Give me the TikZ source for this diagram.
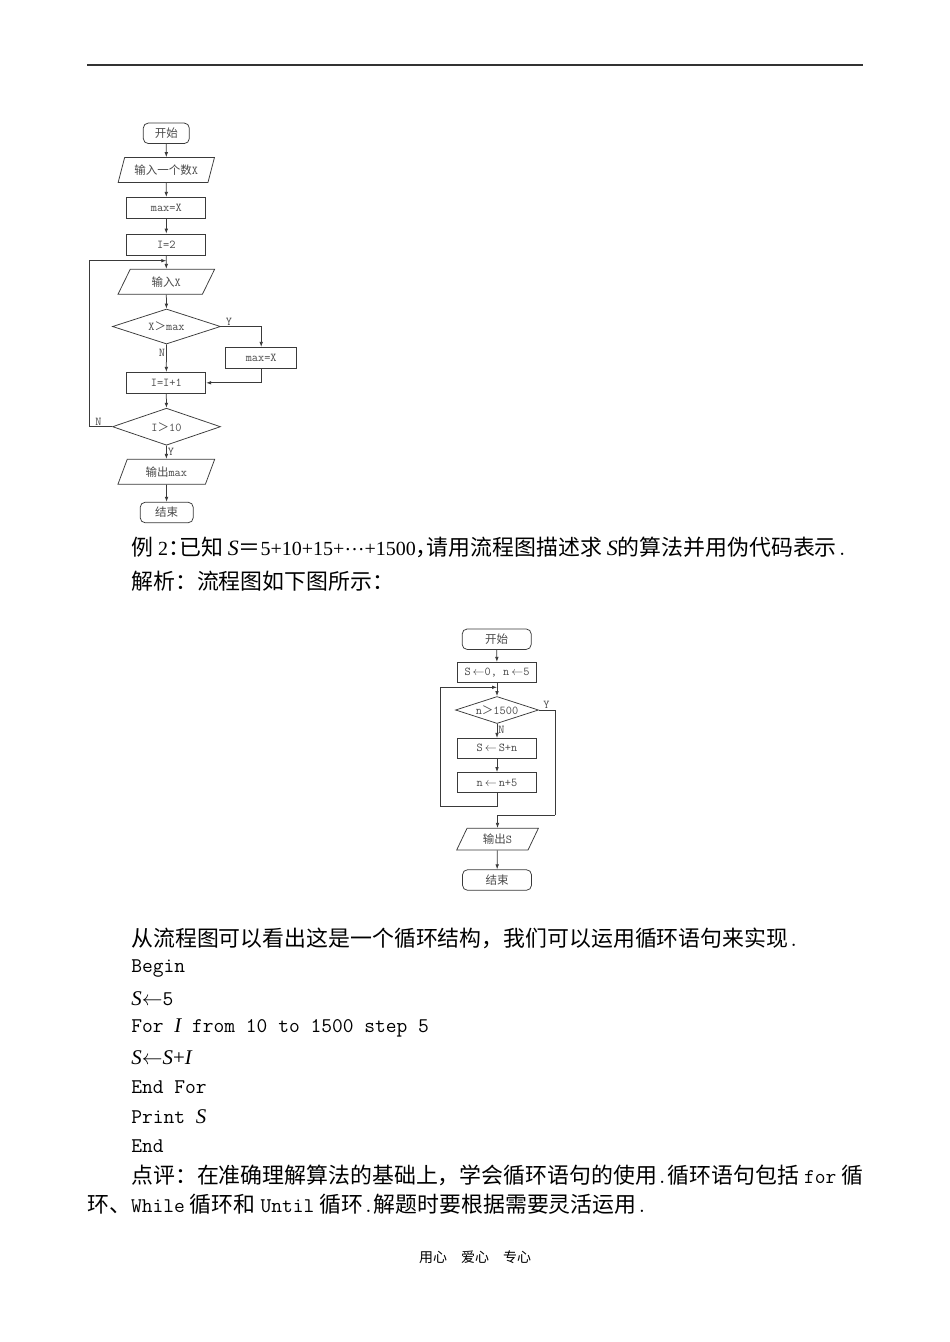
\documentclass[tikz,border=0pt]{standalone}
\usepackage{fontspec}
\usetikzlibrary{shapes.geometric,arrows.meta}
\setmainfont{Liberation Serif}
\newfontfamily\cjk{Noto Sans CJK SC}
\newfontfamily\latn{Liberation Serif}
\definecolor{FlowLine}{HTML}{3A3A3A}
\definecolor{FlowText}{HTML}{4A4A4A}
\newcommand\bodyfont{\cjk\fontsize{21.9}{26}\selectfont}
\newcommand\codefont{\ttfamily\fontsize{20.9}{24}\selectfont}
\newcommand\chartfont{\cjk\fontsize{11.5}{13}\selectfont}
\newcommand\chartlat{\ttfamily\fontsize{12}{14}\selectfont}
\newcommand\ivar[1]{{\latn\itshape #1}}
\newcommand\halfp[1]{\makebox[0.5em][l]{#1}}
\newcommand\numfont{\latn\fontsize{20}{24}\selectfont}

\begin{document}
\begin{tikzpicture}[x=1pt,y=-1pt,line width=0.75pt,draw=FlowLine,
  >={Latex[length=5pt,width=3.6pt]},
  process/.style={draw,rectangle,minimum width=79pt,minimum height=21pt,inner sep=0pt,font=\chartfont,text=FlowText},
  startstop/.style={draw,rectangle,rounded corners=5pt,minimum height=20.5pt,inner sep=0pt,font=\chartfont,text=FlowText},
  inout/.style={draw,trapezium,trapezium left angle=65,trapezium right angle=115,trapezium stretches=true,minimum width=97pt,minimum height=25pt,inner sep=0pt,font=\chartfont,text=FlowText},
  decide/.style={draw,diamond,aspect=3,inner sep=0pt,font=\chartfont,text=FlowText},
  lbl/.style={font=\chartlat,text=FlowText,inner sep=1pt},
  textline/.style={anchor=west,inner sep=0pt,font=\bodyfont}]
  \fill[white] (0,0) rectangle (950,1342);
  \useasboundingbox (0,0) rectangle (950,1342);
  \draw[line width=1.3pt,black!80] (87,65) -- (863,65);

  \node[startstop,minimum width=46pt] (start1) at (166.3,133.3) {开始};
  \node[inout] (in1) at (166.3,170) {输入一个数{\chartlat X}};
  \node[process] (max1) at (166.3,207.8) {{\chartlat max=X}};
  \node[process] (i1) at (166.3,244.5) {{\chartlat I=2}};
  \node[inout] (in2) at (166.3,281.8) {输入{\chartlat X}};
  \node[decide,minimum width=108pt,minimum height=35pt] (dec1) at (166.5,326.5) {{\chartlat X}＞{\chartlat max}};
  \node[process,minimum width=71pt] (max2) at (261.2,357.8) {{\chartlat max=X}};
  \node[process] (inc1) at (166.3,382.8) {{\chartlat I=I+1}};
  \node[decide,minimum width=108pt,minimum height=37pt] (dec2) at (166.5,426.7) {{\chartlat I}＞{\chartlat 10}};
  \node[inout] (out1) at (166.3,471.8) {输出{\chartlat max}};
  \node[startstop,minimum width=53pt] (end1) at (166.7,512.5) {结束};
  \coordinate (loop1) at (166.3,260.7);
  \coordinate (back1) at (89.3,260.7);

  \draw[->] (start1) -- (in1);
  \draw[->] (in1) -- (max1);
  \draw[->] (max1) -- (i1);
  \draw[->] (i1) -- (in2);
  \draw[->] (in2) -- (dec1);
  \draw[->] (dec1.east) -| node[lbl,pos=0.1,above] {Y} (max2.north);
  \draw[->] (dec1) -- node[lbl,pos=0.3,left] {N} (inc1);
  \draw[->] (max2.south) |- (inc1.east);
  \draw[->] (inc1) -- (dec2);
  \draw[->] (dec2.west) -| node[lbl,pos=0.3,above] {N} (back1) -- (loop1);
  \draw[->] (dec2) -- node[lbl,pos=0.5,right] {Y} (out1);
  \draw[->] (out1) -- (end1);

  \node[startstop,minimum width=69pt] (start2) at (496.7,639.2) {开始};
  \node[process,minimum height=20pt] (init2) at (497,672.3) {{\chartlat S}\,$\leftarrow${\chartlat 0, n}\,$\leftarrow${\chartlat 5}};
  \node[decide,minimum width=83pt,minimum height=27pt] (dec3) at (497,710) {{\chartlat n}＞{\chartlat 1500}};
  \node[process,minimum height=20pt] (sum2) at (497,748.3) {{\chartlat S}\,$\leftarrow${\chartlat\,S+n}};
  \node[process,minimum height=20pt] (inc2) at (497,782.5) {{\chartlat n}\,$\leftarrow${\chartlat\,n+5}};
  \node[inout,minimum width=82pt,minimum height=21.7pt] (out2) at (497.5,839.2) {输出{\chartlat S}};
  \node[startstop,minimum width=69pt] (end2) at (497,880) {结束};
  \coordinate (loop2) at (497,687.3);
  \coordinate (back2) at (440,806.7);
  \coordinate (exit2) at (555,815);

  \draw[->] (start2) -- (init2);
  \draw[->] (init2) -- (dec3);
  \draw[->] (dec3) -- node[lbl,pos=0.4,right] {N} (sum2);
  \draw[->] (sum2) -- (inc2);
  \draw[->] (inc2.south) |- (back2) |- (loop2);
  \draw (dec3.east) -| node[lbl,pos=0.1,above right] {Y} (exit2);
  \draw[->] (exit2) -| (out2.north);
  \draw[->] (out2) -- (end2);

  \node[textline] (ex2) at (131,547) {例 {\numfont 2}\halfp{：}已知 \ivar{S}＝{\numfont 5+10+15+\raisebox{0.25em}{…}+1500}\halfp{，}请用流程图描述求 \ivar{S}的算法并用伪代码表示{\codefont .}};
  \node[textline] (ex2b) at (131,581) {解析：流程图如下图所示：};
  \node[textline] (note1) at (131,938.3) {从流程图可以看出这是一个循环结构，我们可以运用循环语句来实现{\codefont .}};
  \node[textline,font=\codefont] (c1) at (131,968.3) {Begin};
  \node[textline,font=\codefont] (c2) at (131,998.3) {\ivar{S}$\leftarrow$5};
  \node[textline,font=\codefont] (c3) at (131,1028.3) {For \ivar{I} from 10 to 1500 step 5};
  \node[textline,font=\codefont] (c4) at (131,1057.3) {\ivar{S}$\leftarrow$\ivar{S}{\latn +}\ivar{I}};
  \node[textline,font=\codefont] (c5) at (131,1086.7) {End For};
  \node[textline,font=\codefont] (c6) at (131,1116.7) {Print \ivar{S}};
  \node[textline,font=\codefont] (c7) at (131,1146) {End};
  \node[textline] (rem1) at (131,1175) {点评：在准确理解算法的基础上，学会循环语句的使用{\codefont .}循环语句包括 {\codefont for} 循};
  \node[textline] (rem2) at (87,1204) {环、{\codefont While} 循环和 {\codefont Until} 循环{\codefont .}解题时要根据需要灵活运用{\codefont .}};
  \node[font=\cjk\fontsize{14}{16}\selectfont] (foot) at (475,1257) {用心\hspace{14pt}爱心\hspace{14pt}专心};
\end{tikzpicture}
\end{document}
